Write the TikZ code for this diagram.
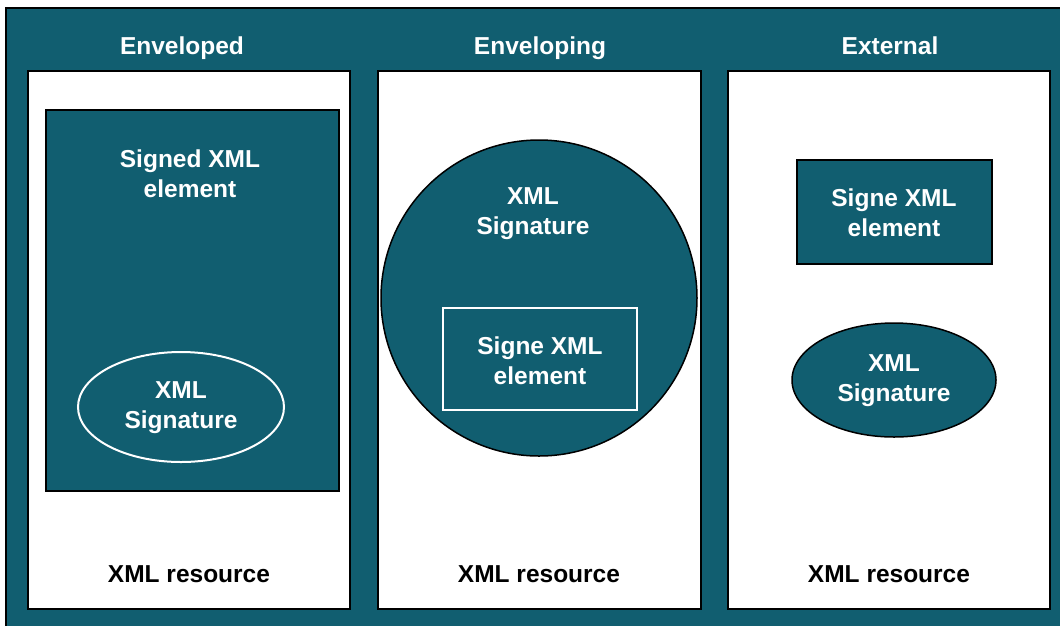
\documentclass[tikz,border=0pt]{standalone}
\usepackage{fontspec}
\setmainfont{Liberation Sans}
\definecolor{xmlteal}{RGB}{17,94,112}

\begin{document}
\begin{tikzpicture}[x=1pt, y=-1pt, line width=1.5pt,
    every node/.style={font=\fontsize{24.5}{30}\selectfont\bfseries, align=center},
    head/.style={text=white, text height=0.75em, text depth=0.25em},
    intext/.style={text=white},
    restext/.style={text=black}]
    \useasboundingbox (0,0) rectangle (1060,625);

    % Khung ngoài
    \draw[fill=xmlteal] (6,8) rectangle (1070,640);

    % Enveloped
    \node[head] (envd) at (182,52) {Enveloped};
    \draw[fill=white] (28,71) rectangle (350,609);
    \draw[fill=xmlteal] (46,110) rectangle (339,491);
    \node[intext] (envdelem) at (190,174) {Signed XML\\element};
    \draw[white, line width=2pt] (181,407) ellipse (103 and 55);
    \node[intext] (envdsig) at (181,408) {XML\\Signature};
    \node[restext] (envdres) at (189,574) {XML resource};

    % Enveloping
    \node[head] (envg) at (540,52) {Enveloping};
    \draw[fill=white] (378,71) rectangle (701,609);
    \draw[fill=xmlteal] (539,298) circle (158);
    \node[intext] (envgsig) at (533,214) {XML\\Signature};
    \draw[white, line width=2pt] (443,308) rectangle (637,410);
    \node[intext] (envgelem) at (540,361) {Signe XML\\element};
    \node[restext] (envgres) at (539,574) {XML resource};

    % External
    \node[head] (ext) at (890,52) {External};
    \draw[fill=white] (728,71) rectangle (1050,609);
    \draw[fill=xmlteal] (797,160) rectangle (992,264);
    \node[intext] (extelem) at (894,213) {Signe XML\\element};
    \draw[fill=xmlteal] (894,380) ellipse (102 and 57);
    \node[intext] (extsig) at (894,381) {XML\\Signature};
    \node[restext] (extres) at (889,574) {XML resource};
\end{tikzpicture}
\end{document}
